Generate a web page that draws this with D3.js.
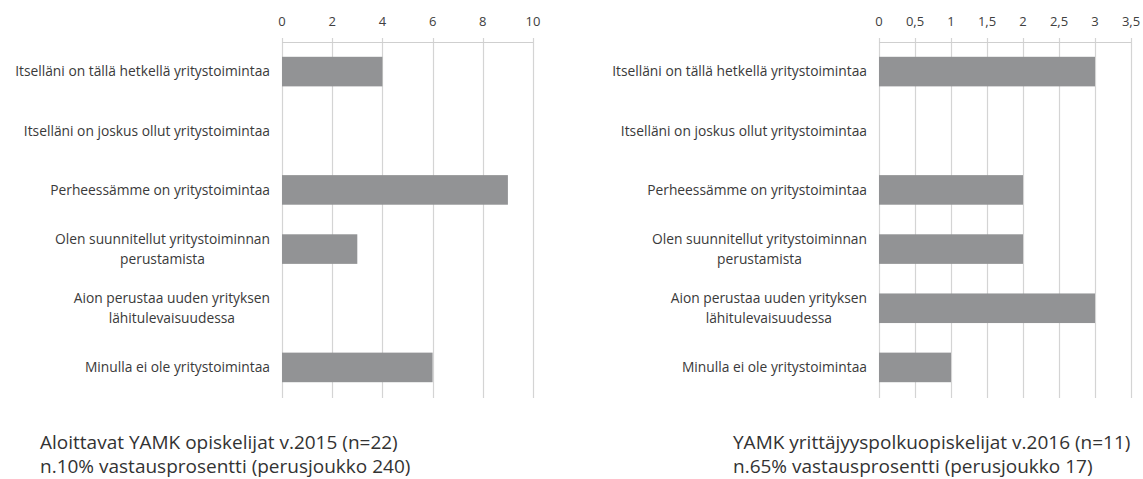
<!DOCTYPE html>
<html>
<head>
<meta charset="utf-8">
<script src="https://cdn.jsdelivr.net/npm/d3@7"></script>
<style>
  html, body { margin: 0; padding: 0; background: #fff; }
  svg { display: block; font-family: "Open Sans", sans-serif; }
</style>
</head>
<body>
<svg id="chart" width="1143" height="479"></svg>
<script>
// Categories (same for both panels), line breaks where the original wraps
const categories = [
    "Itselläni on tällä hetkellä yritystoimintaa",
    "Itselläni on joskus ollut yritystoimintaa",
    "Perheessämme on yritystoimintaa",
    "Olen suunnitellut yritystoiminnan\nperustamista",
    "Aion perustaa uuden yrityksen\nlähitulevaisuudessa",
    "Minulla ei ole yritystoimintaa"
];

// Values
const values2015 = [4, 0, 9, 3, 0, 6];
const values2016 = [3, 0, 2, 2, 3, 1];

// Tick values
const ticks2015 = [0, 2, 4, 6, 8, 10];
const ticks2016 = [0, 0.5, 1, 1.5, 2, 2.5, 3, 3.5];

// Footer captions
const caption2015 = ["Aloittavat YAMK opiskelijat v.2015 (n=22)", "n.10% vastausprosentti (perusjoukko 240)"];
const caption2016 = ["YAMK yrittäjyyspolkuopiskelijat v.2016 (n=11)", "n.65% vastausprosentti (perusjoukko 17)"];

const svg = d3.select('#chart');
const fmt = d => String(d).replace('.', ',');

function drawPanel(opts) {
    const x = d3.scaleLinear()
        .domain([0, opts.max])
        .range([opts.x0, opts.x1]);

    const y = d3.scaleBand()
        .domain(categories)
        .range([42, 397])
        .paddingInner(0.5)
        .paddingOuter(0.25);

    const g = svg.append('g');

    // Gridlines
    g.append('g')
        .selectAll('line')
        .data(opts.ticks)
        .join('line')
        .attr('x1', d => Math.round(x(d)) + 0.5)
        .attr('x2', d => Math.round(x(d)) + 0.5)
        .attr('y1', 38)
        .attr('y2', 398)
        .attr('stroke', '#d4d4d4')
        .attr('stroke-width', 1.2);

    // Top axis line
    g.append('line')
        .attr('x1', x(0))
        .attr('x2', x(opts.max))
        .attr('y1', 42.5)
        .attr('y2', 42.5)
        .attr('stroke', '#cfcfcf')
        .attr('stroke-width', 1.2);

    // Tick labels
    g.append('g')
        .selectAll('text')
        .data(opts.ticks)
        .join('text')
        .attr('x', d => x(d))
        .attr('y', 21)
        .attr('dy', '0.35em')
        .attr('text-anchor', 'middle')
        .attr('font-size', '13px')
        .attr('fill', '#404040')
        .text(fmt);

    // Bars
    g.append('g')
        .selectAll('rect')
        .data(opts.values.map((v, i) => ({ cat: categories[i], v })))
        .join('rect')
        .attr('x', x(0))
        .attr('y', d => y(d.cat))
        .attr('width', d => x(d.v) - x(0))
        .attr('height', y.bandwidth())
        .attr('fill', '#929395');

    // Category labels (multi-line labels centred on each other, block right aligned)
    const labelRight = x(0) - 12;
    categories.forEach(c => {
        const lines = c.split('\n');
        const cy = y(c) + y.bandwidth() / 2;
        const t = g.append('text')
            .attr('font-size', '13.8px')
            .attr('fill', '#3a3a3a');
        lines.forEach((ln, i) => {
            t.append('tspan')
                .attr('y', cy + (i - (lines.length - 1) / 2) * 19.5)
                .attr('dy', '0.35em')
                .text(ln);
        });
        // measure widest line
        let w = 0;
        t.selectAll('tspan').each(function() {
            w = Math.max(w, this.getComputedTextLength());
        });
        t.attr('text-anchor', 'middle');
        t.selectAll('tspan').attr('x', labelRight - w / 2);
    });

    // Caption below
    svg.append('g')
        .selectAll('text')
        .data(opts.caption)
        .join('text')
        .attr('x', opts.captionX)
        .attr('y', (d, i) => 449 + i * 24)
        .attr('font-size', '19px')
        .attr('fill', '#333')
        .text(d => d);
}

drawPanel({
    values: values2015, ticks: ticks2015, max: 10,
    x0: 282, x1: 533, caption: caption2015, captionX: 40
});

drawPanel({
    values: values2016, ticks: ticks2016, max: 3.5,
    x0: 879, x1: 1131, caption: caption2016, captionX: 733
});
</script>
</body>
</html>
